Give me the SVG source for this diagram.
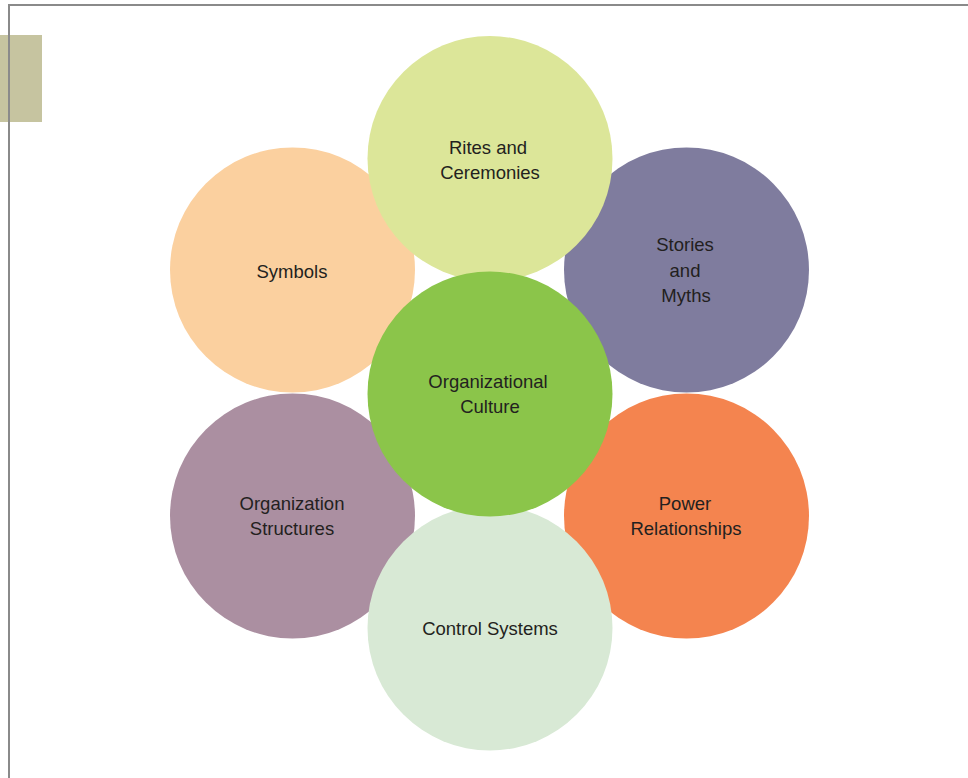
<svg xmlns="http://www.w3.org/2000/svg" width="968" height="778" viewBox="0 0 968 778">
<style>
text{font-family:"Liberation Sans",Arial,sans-serif;font-size:18.5px;fill:#231f20;text-anchor:middle}
.frame{stroke:#8a8a8a;stroke-width:2;fill:none}
</style>
<rect width="968" height="778" fill="#fff"/>
<rect x="0" y="35" width="42" height="87" fill="#c6c4a0"/>
<path class="frame" d="M9,778 V5 H968"/>
<g id="symbols"><circle cx="292.5" cy="270" r="122.5" fill="#fbd09f"/><text x="292" y="278">Symbols</text></g>
<g id="stories"><circle cx="686.5" cy="270" r="122.5" fill="#7f7c9e"/><text x="685" y="251">Stories</text><text x="685" y="277">and</text><text x="686" y="302">Myths</text></g>
<g id="structures"><circle cx="292.5" cy="516" r="122.5" fill="#ab8fa1"/><text x="292" y="510">Organization</text><text x="292" y="535">Structures</text></g>
<g id="power"><circle cx="686.5" cy="516" r="122.5" fill="#f4844f"/><text x="685" y="510">Power</text><text x="686" y="535">Relationships</text></g>
<g id="rites"><circle cx="490" cy="158.5" r="122.5" fill="#dce699"/><text x="488" y="154">Rites and</text><text x="490" y="179">Ceremonies</text></g>
<g id="control"><circle cx="490" cy="628" r="122.5" fill="#d8e9d5"/><text x="490" y="635">Control Systems</text></g>
<g id="culture"><circle cx="490" cy="394" r="122.5" fill="#8bc54a"/><text x="488" y="388">Organizational</text><text x="490" y="413">Culture</text></g>
<g id="connectors"></g>
</svg>
